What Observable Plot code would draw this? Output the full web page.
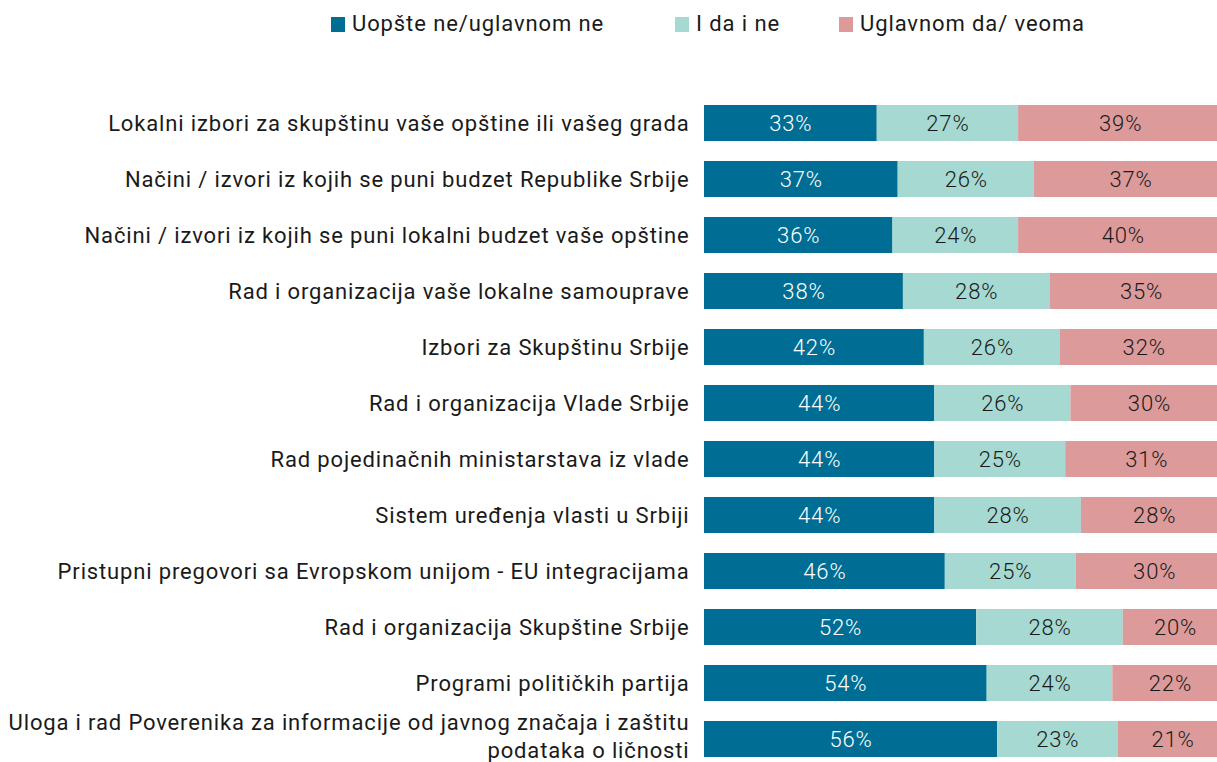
<!DOCTYPE html>
<html>
<head>
<meta charset="utf-8">
<script src="https://cdn.jsdelivr.net/npm/d3@7"></script>
<script src="https://cdn.jsdelivr.net/npm/@observablehq/plot@0.6"></script>
<style>
  html, body { margin: 0; padding: 0; background: #fff; overflow: hidden; }
  body { width: 1217px; height: 762px; font-family: Roboto, "Noto Sans", sans-serif; color: #1a1a1a; }
  #legend { position: relative; height: 48px; font-size: 22px; letter-spacing: 0.9px; }
  .item { position: absolute; top: 12px; display: flex; align-items: center; white-space: nowrap; line-height: 24px; }
  .sw { display: inline-block; width: 14px; height: 15px; margin-right: 7px; }
  #chart svg { display: block; overflow: hidden; }
  #chart svg text { letter-spacing: 0.85px; }
</style>
</head>
<body>
<div id="legend"></div>
<div id="chart"></div>
<script>
const categories = [
  "Lokalni izbori za skupštinu vaše opštine ili vašeg grada",
  "Načini / izvori iz kojih se puni budzet Republike Srbije",
  "Načini / izvori iz kojih se puni lokalni budzet vaše opštine",
  "Rad i organizacija vaše lokalne samouprave",
  "Izbori za Skupštinu Srbije",
  "Rad i organizacija Vlade Srbije",
  "Rad pojedinačnih ministarstava iz vlade",
  "Sistem uređenja vlasti u Srbiji",
  "Pristupni pregovori sa Evropskom unijom - EU integracijama",
  "Rad i organizacija Skupštine Srbije",
  "Programi političkih partija",
  "Uloga i rad Poverenika za informacije od javnog značaja i zaštitu\npodataka o ličnosti"
];
const seriesNames = ["Uopšte ne/uglavnom ne", "I da i ne", "Uglavnom da/ veoma"];
const seriesColors = ["#006e94", "#a6d9d2", "#dc9b9a"];
const labelColors = ["#ffffff", "#1a1a1a", "#1a1a1a"];
const uopsteNe = [33, 37, 36, 38, 42, 44, 44, 44, 46, 52, 54, 56];
const daINe    = [27, 26, 24, 28, 26, 26, 25, 28, 25, 28, 24, 23];
const uglavnomDa = [39, 37, 40, 35, 32, 30, 31, 28, 30, 20, 22, 21];

const seriesValues = [uopsteNe, daINe, uglavnomDa];
const data = [];
categories.forEach((c, i) => {
  seriesValues.forEach((vals, s) => {
    data.push({cat: c, series: seriesNames[s], value: vals[i], s});
  });
});

// legend
const legendPos = [{sw: 331}, {sw: 675}, {sw: 839}];
const legend = document.getElementById("legend");
seriesNames.forEach((n, i) => {
  const it = document.createElement("div");
  it.className = "item";
  it.style.left = legendPos[i].sw + "px";
  it.innerHTML = `<span class="sw" style="background:${seriesColors[i]}"></span><span>${n}</span>`;
  legend.appendChild(it);
});

const chart = Plot.plot({
  width: 1217,
  height: 714,
  marginLeft: 704,
  marginRight: 0,
  marginTop: 0,
  marginBottom: 0,
  style: {fontFamily: "Roboto, 'Noto Sans', sans-serif", fontSize: "22px", color: "#1a1a1a", background: "#fff"},
  x: {domain: [0, 98], axis: null},
  y: {domain: categories, range: [46.4, 720.0], paddingInner: 0.36, paddingOuter: 0.18, label: null},
  color: {domain: seriesNames, range: seriesColors},
  marks: [
    Plot.barX(data, {x: "value", y: "cat", fill: "series", order: null}),
    Plot.textX(data, Plot.stackX({x: "value", y: "cat", z: "series", order: null,
      text: d => d.value + "%", fill: d => labelColors[d.s], fontSize: 22, fontWeight: 300})),
    Plot.axisY({ticks: categories.slice(0, -1), tickSize: 0, tickPadding: 15, fontSize: 22, label: null, fill: "#1a1a1a"}),
    Plot.axisY({ticks: categories.slice(-1), tickSize: 0, tickPadding: 15, fontSize: 22, lineHeight: 1.27, dy: -4, label: null, fill: "#1a1a1a"})
  ]
});
document.getElementById("chart").appendChild(chart);
</script>
</body>
</html>
